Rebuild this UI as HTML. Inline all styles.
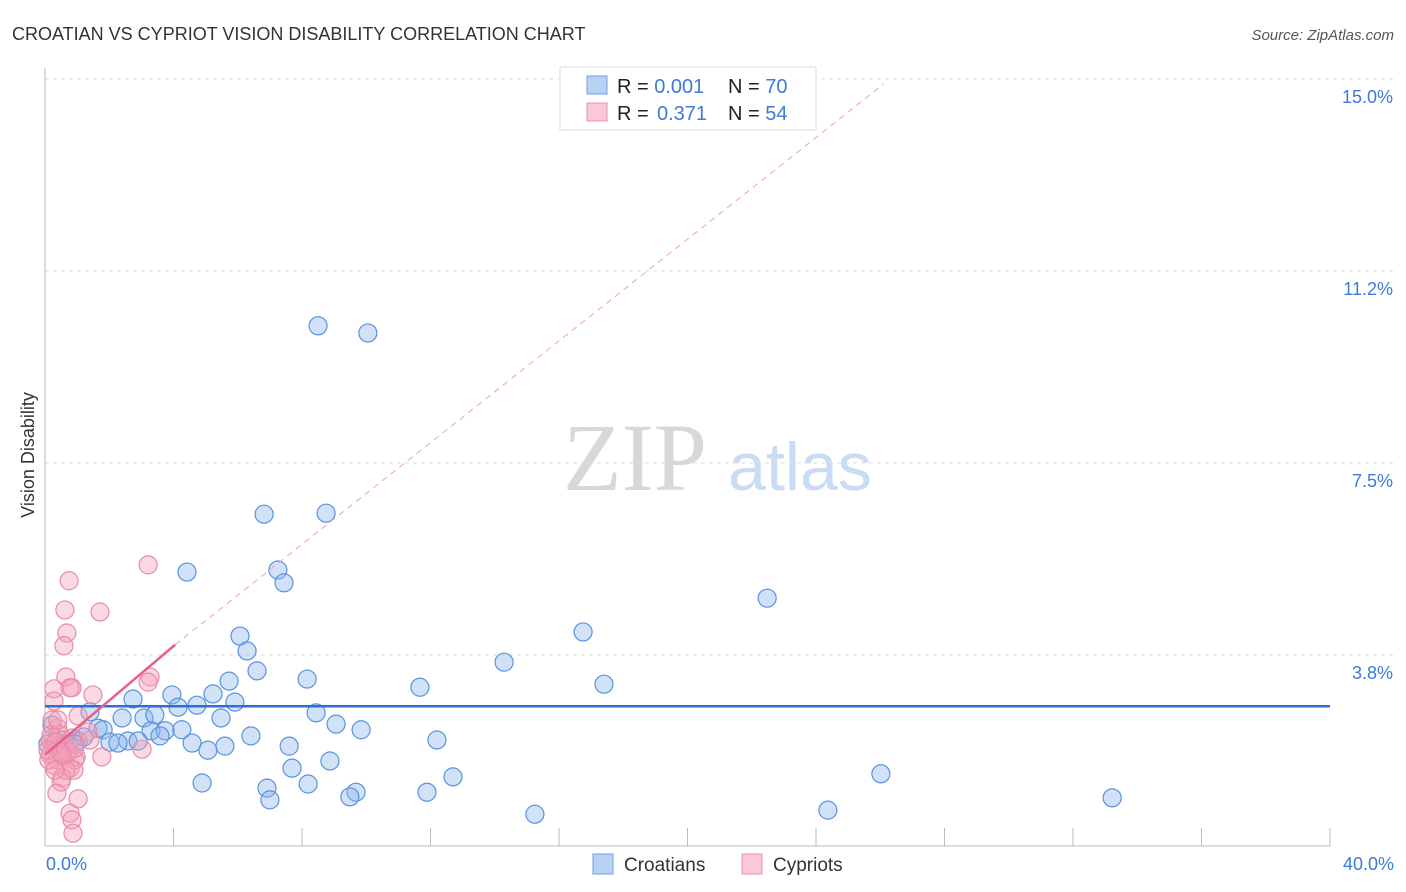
<!DOCTYPE html>
<html><head><meta charset="utf-8"><style>
body{margin:0;background:#fff;font-family:"Liberation Sans",sans-serif;}
#wrap{position:relative;width:1406px;height:892px;overflow:hidden;}
</style></head><body>
<div id="wrap">
<svg id="svg" width="1406" height="892" xmlns="http://www.w3.org/2000/svg">
<text x="12" y="40" font-size="18" fill="#333">CROATIAN VS CYPRIOT VISION DISABILITY CORRELATION CHART</text>
<text x="1394" y="40" font-size="15" fill="#555" font-style="italic" text-anchor="end">Source: ZipAtlas.com</text>
<text x="635" y="490" font-size="96" fill="#d8d8d8" font-family="Liberation Serif,serif" text-anchor="middle">ZIP</text>
<text x="800" y="490" font-size="68" fill="#c9dcf3" text-anchor="middle">atlas</text>
<g id="grid"></g><g id="axes"></g><g id="pts"></g><g id="trend"></g>
<text transform="translate(34,455) rotate(-90)" font-size="18" fill="#333" text-anchor="middle">Vision Disability</text>
<text x="46" y="870" font-size="18" fill="#3d7bd9">0.0%</text>
<text x="1394" y="870" font-size="18" fill="#3d7bd9" text-anchor="end">40.0%</text>
<g>
<rect x="560" y="67" width="256" height="63" fill="#fff" stroke="#ddd"/>
<rect x="587" y="76" width="20" height="18" fill="#b8d2f4" stroke="#6fa0e0"/>
<rect x="587" y="103" width="20" height="18" fill="#fac8d6" stroke="#ee90ab"/>
<text x="617" y="93" font-size="20" fill="#222">R = <tspan fill="#3d7bd9">0.001</tspan><tspan x="728">N = </tspan><tspan fill="#3d7bd9">70</tspan></text>
<text x="617" y="120" font-size="20" fill="#222">R = <tspan x="657" fill="#3d7bd9">0.371</tspan><tspan x="728">N = </tspan><tspan fill="#3d7bd9">54</tspan></text>
</g>
<g>
<rect x="593" y="854" width="20" height="20" fill="#b8d2f4" stroke="#6fa0e0"/>
<text x="624" y="871" font-size="19" fill="#333">Croatians</text>
<rect x="742" y="854" width="20" height="20" fill="#fac8d6" stroke="#ee90ab"/>
<text x="773" y="871" font-size="19" fill="#333">Cypriots</text>
</g>
</svg></div>
<script>
const yTicks=[3.75,7.5,11.25,15];
const yTickLabels=["3.8%","7.5%","11.2%","15.0%"];
const xTicks=[4,8,12,16,20,24,28,32,36,40];
const blueX=[8.50,10.05,6.82,8.75,4.42,7.25,7.44,22.48,16.75,6.07,6.29,14.29,6.60,8.16,17.40,11.67,5.73,3.95,5.23,2.74,4.73,4.14,5.91,1.40,2.40,3.08,3.42,8.44,5.48,9.06,9.84,1.65,1.81,3.30,3.74,4.26,6.41,1.03,2.02,2.58,2.90,3.58,4.58,5.60,5.07,7.60,12.20,0.72,0.47,1.21,8.87,7.69,26.02,12.70,4.89,6.91,8.19,9.68,9.49,11.89,7.00,33.22,24.37,15.25,0.22,0.59,2.27,0.31,0.93,0.09];
const blueY=[10.18,10.04,6.50,6.52,5.37,5.41,5.16,4.86,4.20,4.12,3.83,3.61,3.44,3.28,3.18,3.12,3.24,2.97,2.99,2.89,2.77,2.73,2.83,2.64,2.52,2.52,2.58,2.62,2.52,2.40,2.29,2.32,2.29,2.27,2.27,2.29,2.17,2.07,2.05,2.07,2.07,2.17,2.03,1.97,1.89,1.97,2.09,2.01,1.99,2.15,1.68,1.54,1.43,1.37,1.25,1.15,1.23,1.07,0.98,1.07,0.92,0.96,0.72,0.64,2.38,2.09,2.03,1.99,2.01,2.01];
const pinkX=[3.21,0.75,0.62,1.71,0.68,0.59,0.65,0.84,3.27,3.21,1.49,0.78,0.28,0.28,1.03,0.40,0.47,0.84,0.16,0.25,0.37,0.56,0.16,0.37,0.28,3.02,1.77,0.97,0.93,0.78,0.90,0.53,0.50,0.37,1.03,0.78,0.84,0.87,1.34,0.62,0.72,0.12,0.19,0.34,0.47,0.93,0.65,0.22,0.40,0.53,0.09,0.31,1.40];
const pinkY=[5.51,5.20,4.63,4.59,4.18,3.93,3.32,3.11,3.32,3.22,2.97,3.11,3.09,2.85,2.56,2.32,2.19,2.13,2.09,1.99,1.93,1.89,1.80,1.70,1.60,1.91,1.76,1.76,1.70,1.54,1.50,1.35,1.27,1.05,0.94,0.66,0.53,0.27,2.25,1.99,1.86,1.70,2.19,2.05,1.86,1.93,1.50,2.48,2.48,1.80,1.89,1.50,2.09];
const blueTrend=[[0,2.75],[40,2.75]];
const pinkTrend=[[0,1.80],[4.05,3.95]];
const pinkDash=[[4.05,3.95],[26.1,14.9]];
const X0=45,X1=1330,Y0=847,Y15=79;
const sx=v=>X0+(X1-X0)*v/40;
const sy=v=>Y0-(Y0-Y15)*v/15;
const NS="http://www.w3.org/2000/svg";
function mk(tag,parent,attrs){const e=document.createElementNS(NS,tag);for(const k in attrs)e.setAttribute(k,attrs[k]);document.getElementById(parent).appendChild(e);return e;}
yTicks.forEach((t,i)=>{
 const l=mk('line','grid',{x1:X0,x2:1395,y1:sy(t),y2:sy(t),stroke:'#ddd','stroke-dasharray':'4,4'});
 
 
 const tx=mk('text','grid',{x:1393,y:sy(t)+24,'font-size':18,fill:'#3d7bd9','text-anchor':'end'});
 tx.textContent=yTickLabels[i];
 
 
});
const ax=mk('line','axes',{x1:X0,x2:X0,y1:68,y2:846,stroke:'#bbb'});


const bx=mk('line','axes',{x1:X0,x2:X1,y1:846,y2:846,stroke:'#bbb'});


xTicks.forEach(t=>{
 const l=mk('line','axes',{x1:sx(t),x2:sx(t),y1:828,y2:846,stroke:'#bbb'});
 
 
});
blueX.forEach((v,i)=>{
 const c=mk('circle','pts',{cx:sx(v),cy:sy(blueY[i]),r:9,fill:'rgba(140,182,238,0.4)',stroke:'#5a92dd','stroke-width':1.2});
 
 
});
pinkX.forEach((v,i)=>{
 const c=mk('circle','pts',{cx:sx(v),cy:sy(pinkY[i]),r:9,fill:'rgba(246,160,186,0.4)',stroke:'#e98aa7','stroke-width':1.2});
 
 
});
const bt=mk('line','trend',{x1:sx(blueTrend[0][0]),y1:sy(blueTrend[0][1]),x2:sx(blueTrend[1][0]),y2:sy(blueTrend[1][1]),stroke:'#2e6fd6','stroke-width':2.5});


const pt=mk('line','trend',{x1:sx(pinkTrend[0][0]),y1:sy(pinkTrend[0][1]),x2:sx(pinkTrend[1][0]),y2:sy(pinkTrend[1][1]),stroke:'#e8608a','stroke-width':2.5});


const pd=mk('line','trend',{x1:sx(pinkDash[0][0]),y1:sy(pinkDash[0][1]),x2:sx(pinkDash[1][0]),y2:sy(pinkDash[1][1]),stroke:'#eda0b8','stroke-width':1,'stroke-dasharray':'6,5'});


</script>
</body></html>
